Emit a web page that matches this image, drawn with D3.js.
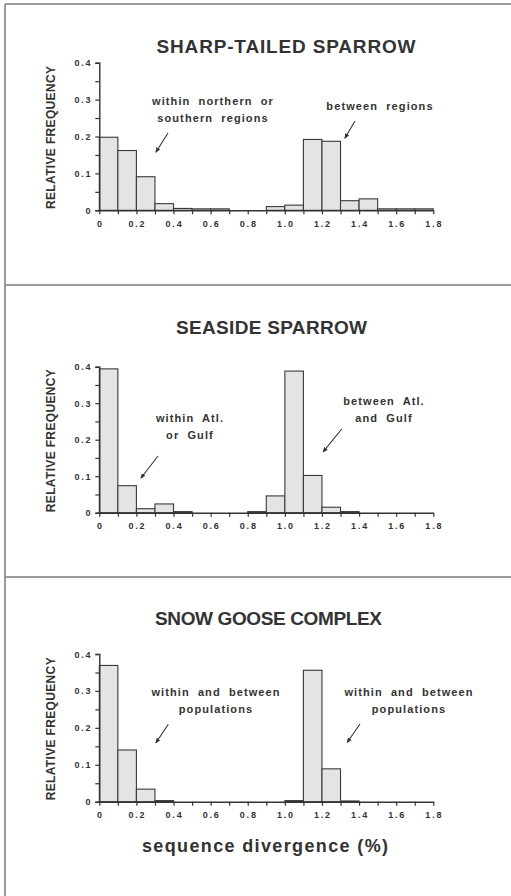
<!DOCTYPE html>
<html>
<head>
<meta charset="utf-8">
<script src="https://cdn.jsdelivr.net/npm/d3@7"></script>
<style>
  body { margin: 0; background: #fff; }
  svg { display: block; }
  text { font-family: "Liberation Sans", Arial, sans-serif; fill: #333; }
</style>
</head>
<body>
<svg id="canvas" width="511" height="896"></svg>
<script>
// histogram bins (lower edge of each 0.1 wide bin, % sequence divergence)
const binStarts = [0, 0.1, 0.2, 0.3, 0.4, 0.5, 0.6, 0.7, 0.8, 0.9, 1.0, 1.1, 1.2, 1.3, 1.4, 1.5, 1.6, 1.7]

const titles = ["SHARP-TAILED SPARROW", "SEASIDE SPARROW", "SNOW GOOSE COMPLEX"]

const sharpTailed = [0.198, 0.162, 0.091, 0.018, 0.005, 0.004, 0.004, 0, 0, 0.010, 0.014, 0.192, 0.187, 0.026, 0.031, 0.004, 0.004, 0.004]
const seaside = [0.394, 0.074, 0.011, 0.024, 0.003, 0, 0, 0, 0.003, 0.046, 0.388, 0.102, 0.015, 0.003, 0, 0, 0, 0]
const snowGoose = [0.369, 0.140, 0.034, 0.003, 0, 0, 0, 0, 0, 0, 0.003, 0.356, 0.089, 0.002, 0, 0, 0, 0]

const yTicks = [0, 0.1, 0.2, 0.3, 0.4]
const xTicks = [0, 0.2, 0.4, 0.6, 0.8, 1.0, 1.2, 1.4, 1.6, 1.8]
const xTickLabels = ["0", "0.2", "0.4", "0.6", "0.8", "1.0", "1.2", "1.4", "1.6", "1.8"]

const notes = [
  [["within northern or", "southern regions"], ["between regions"]],
  [["within Atl.", "or Gulf"], ["between Atl.", "and Gulf"]],
  [["within and between", "populations"], ["within and between", "populations"]]
]

const yLabel = "RELATIVE FREQUENCY"
const xLabel = "sequence divergence (%)"

// layout of each panel
const layout = [
  { top: 62.7, bottom: 210.3, titleX: 286, titleY: 53, titleW: 259,
    notes: [{ x: 213, y: 105, arrow: [168, 133, 156, 152] }, { x: 380, y: 110, arrow: [355, 121, 345, 138] }] },
  { top: 366.7, bottom: 512.7, titleX: 271.5, titleY: 334.3, titleW: 191,
    notes: [{ x: 190, y: 421.7, arrow: [158, 456, 141, 478] }, { x: 384, y: 405.3, arrow: [341.7, 429, 323.3, 451.7] }] },
  { top: 654, bottom: 801.7, titleX: 268.5, titleY: 625, titleW: 227,
    notes: [{ x: 216, y: 695.7, arrow: [168.3, 724.3, 156, 742.7] }, { x: 409, y: 695.7, arrow: [360, 724, 347.3, 742.3] }] }
]

const panelData = [sharpTailed, seaside, snowGoose]

let canvas = d3.select("#canvas")

canvas.append("defs").append("marker")
  .attr("id", "head")
  .attr("viewBox", "0 0 10 10")
  .attr("refX", 8).attr("refY", 5)
  .attr("markerWidth", 5).attr("markerHeight", 5)
  .attr("orient", "auto")
  .append("path")
  .attr("d", "M0,1 L10,5 L0,9 Z")
  .attr("fill", "#333")

// frame
const frame = canvas.append("g").attr("stroke", "#7a7a7a").attr("stroke-width", 1.5)
frame.append("line").attr("x1", 5).attr("y1", 4).attr("x2", 5).attr("y2", 896)
;[4, 285, 577].forEach(y => {
  frame.append("line").attr("x1", 5).attr("y1", y).attr("x2", 511).attr("y2", y)
})

let x = d3.scaleLinear().domain([0, 1.8]).range([99.3, 433.3])

panelData.forEach((values, i) => {
  const L = layout[i]
  const g = canvas.append("g")
  let y = d3.scaleLinear().domain([0, 0.4]).range([L.bottom, L.top])

  g.append("text")
   .attr("x", L.titleX).attr("y", L.titleY)
   .attr("text-anchor", "middle")
   .attr("font-size", 19).attr("font-weight", "bold")
   .attr("textLength", L.titleW).attr("lengthAdjust", "spacing")
   .attr("fill", "#333")
   .text(titles[i])

  // bars
  g.selectAll("rect")
   .data(values.map((v, k) => ({ x0: binStarts[k], v: v })).filter(d => d.v > 0))
   .enter()
   .append("rect")
   .attr("x", d => x(d.x0))
   .attr("y", d => y(d.v))
   .attr("width", d => x(d.x0 + 0.1) - x(d.x0))
   .attr("height", d => y(0) - y(d.v))
   .attr("fill", "#e4e4e4")
   .attr("stroke", "#3a3a3a")
   .attr("stroke-width", 1.1)

  // y axis
  const yAxis = g.append("g")
    .attr("transform", `translate(${x(0)},0)`)
    .call(d3.axisLeft(y).tickValues(d3.range(0, 0.401, 0.05)).tickSize(4).tickFormat(""))
  yAxis.select(".domain").attr("stroke", "#333").attr("stroke-width", 1.4)
  yAxis.selectAll(".tick line").attr("stroke", "#333").attr("stroke-width", 1.2)

  g.selectAll(".ylab")
   .data(yTicks)
   .enter()
   .append("text")
   .attr("class", "ylab")
   .attr("x", x(0) - 7)
   .attr("y", d => y(d) + 3.5)
   .attr("text-anchor", "end")
   .attr("font-size", 9).attr("font-weight", "bold")
   .attr("letter-spacing", 1.8)
   .attr("fill", "#555")
   .text(d => d === 0 ? "0" : d.toFixed(1))

  // x axis
  const xAxis = g.append("g")
    .attr("transform", `translate(0,${y(0)})`)
    .call(d3.axisBottom(x).tickValues(binStarts.concat([1.8])).tickSize(4).tickSizeOuter(0).tickFormat(""))
  xAxis.select(".domain").attr("stroke", "#333").attr("stroke-width", 1.4)
  xAxis.selectAll(".tick line").attr("stroke", "#333").attr("stroke-width", 1.2)

  g.selectAll(".xlab")
   .data(xTicks)
   .enter()
   .append("text")
   .attr("class", "xlab")
   .attr("x", d => x(d) + 1)
   .attr("y", y(0) + 16.5)
   .attr("text-anchor", "middle")
   .attr("font-size", 9).attr("font-weight", "bold")
   .attr("letter-spacing", 1.8)
   .attr("fill", "#555")
   .text((d, k) => xTickLabels[k])

  g.append("text")
   .attr("transform", `translate(55,${(L.top + L.bottom) / 2 + 1}) rotate(-90)`)
   .attr("text-anchor", "middle")
   .attr("font-size", 12).attr("font-weight", "bold")
   .attr("textLength", 143).attr("lengthAdjust", "spacing")
   .attr("fill", "#3a3a3a")
   .text(yLabel)

  // annotations
  notes[i].forEach((lines, n) => {
    const pos = L.notes[n]
    lines.forEach((t, j) => {
      g.append("text")
       .attr("x", pos.x).attr("y", pos.y + j * 17)
       .attr("text-anchor", "middle")
       .attr("font-size", 11).attr("font-weight", "bold")
       .attr("letter-spacing", 1.1)
       .attr("word-spacing", 4)
       .attr("fill", "#444")
       .text(t)
    })
    g.append("line")
     .attr("x1", pos.arrow[0]).attr("y1", pos.arrow[1])
     .attr("x2", pos.arrow[2]).attr("y2", pos.arrow[3])
     .attr("stroke", "#333").attr("stroke-width", 1.1)
     .attr("marker-end", "url(#head)")
  })
})

canvas.append("text")
  .attr("x", 265).attr("y", 851.7)
  .attr("text-anchor", "middle")
  .attr("font-size", 18).attr("font-weight", "bold")
  .attr("textLength", 246).attr("lengthAdjust", "spacing")
  .attr("fill", "#333")
  .text(xLabel)
</script>
</body>
</html>
